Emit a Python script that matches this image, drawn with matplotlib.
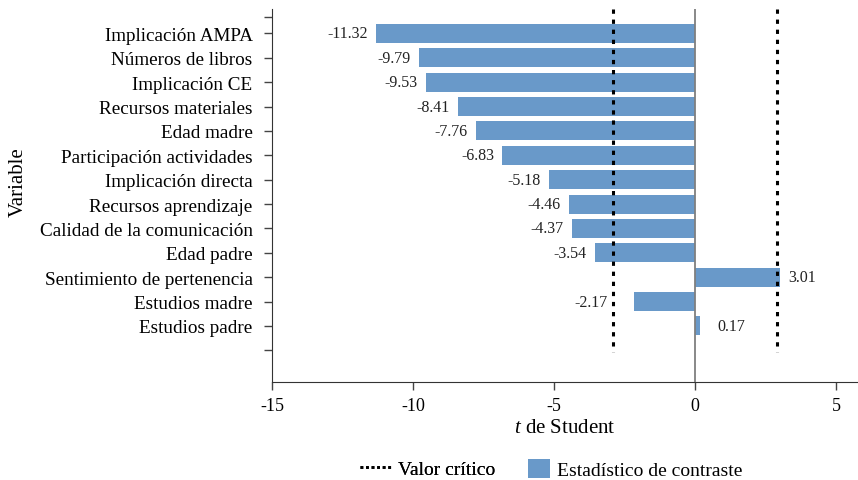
import matplotlib
matplotlib.use("Agg")
import matplotlib.pyplot as plt
from matplotlib.lines import Line2D
from matplotlib.patches import Patch

categories = ["Implicación AMPA", "Números de libros", "Implicación CE",
              "Recursos materiales", "Edad madre", "Participación actividades",
              "Implicación directa", "Recursos aprendizaje",
              "Calidad de la comunicación", "Edad padre",
              "Sentimiento de pertenencia", "Estudios madre", "Estudios padre"]
t_values = [-11.32, -9.79, -9.53, -8.41, -7.76, -6.83, -5.18, -4.46,
            -4.37, -3.54, 3.01, -2.17, 0.17]
critical_value = 2.9
x_ticks = [-15, -10, -5, 0, 5]

plt.rcParams['font.family'] = ['Liberation Serif', 'DejaVu Serif']
plt.rcParams['mathtext.fontset'] = 'custom'
plt.rcParams['mathtext.it'] = 'Liberation Serif:italic'
plt.rcParams['mathtext.rm'] = 'Liberation Serif'
bar_color = "#6999C9"

fig = plt.figure(figsize=(8.58, 4.81), dpi=100)
ax = fig.add_axes([272/858, 1-383/481, 1-272/858, (383-10)/481])

ypos = list(range(len(categories)))
ax.barh(ypos, t_values, height=0.78, color=bar_color, zorder=2)

# labels of short bars (inside the critical band) are pushed past the dotted lines
label_offsets = {"-2.17": 19, "0.17": 13}
for y, v in zip(ypos, t_values):
    txt = f"{v:.2f}"
    off = label_offsets.get(txt, 6)
    if v < 0:
        ax.annotate(txt, (v, y), xytext=(-off, 0), textcoords="offset points",
                    ha="right", va="center", fontsize=11.5, color="#222222")
    else:
        ax.annotate(txt, (v, y), xytext=(off, 0), textcoords="offset points",
                    ha="left", va="center", fontsize=11.5, color="#222222")

ax.set_xlim(-15, 5.78)
ax.set_ylim(14.3, -1)
ax.axvline(0, color="#7f7f7f", lw=1.3, zorder=3)
for cv in (-critical_value, critical_value):
    ax.plot([cv, cv], [-1, 13.05], color="black", lw=2.2,
            linestyle=(0, (1.4, 1.9)), zorder=4, solid_capstyle="butt")

ax.set_xticks(x_ticks)
ax.set_xticklabels([str(t) for t in x_ticks], fontsize=13)
ax.set_yticks([-0.66] + ypos + [13])
ax.set_yticklabels([""] + categories + [""], fontsize=13.8)
ax.tick_params(axis="both", direction="out", length=6, width=1, color="#444444")
ax.tick_params(axis="x", pad=5)
ax.tick_params(axis="y", pad=8)

for s in ("top", "right"):
    ax.spines[s].set_visible(False)
ax.spines["left"].set_color("#333333")
ax.spines["bottom"].set_color("#333333")

ax.set_xlabel("$t$ de Student", fontsize=15, labelpad=3)
fig.text(18/858, 1-182/481, "Variable", rotation=90, fontsize=15,
         ha="center", va="center")

leg_font = {"family": ["Liberation Serif"], "size": 14}
leg1 = fig.legend([Line2D([0], [0], color="black", lw=2, linestyle=(0, (1, 1)))],
                  ["Valor crítico"], loc="center left",
                  bbox_to_anchor=(360/858, 1-470/481), frameon=False,
                  prop=leg_font, handlelength=1.65, handletextpad=0.3,
                  borderpad=0, borderaxespad=0)
fig.add_artist(leg1)
fig.legend([Patch(facecolor=bar_color)], ["Estadístico de contraste"],
           loc="center left", bbox_to_anchor=(528/858, 1-470/481), frameon=False,
           prop=leg_font, handlelength=1.13, handleheight=1.13, handletextpad=0.36,
           borderpad=0, borderaxespad=0)

fig.savefig("out.png", dpi=100)
